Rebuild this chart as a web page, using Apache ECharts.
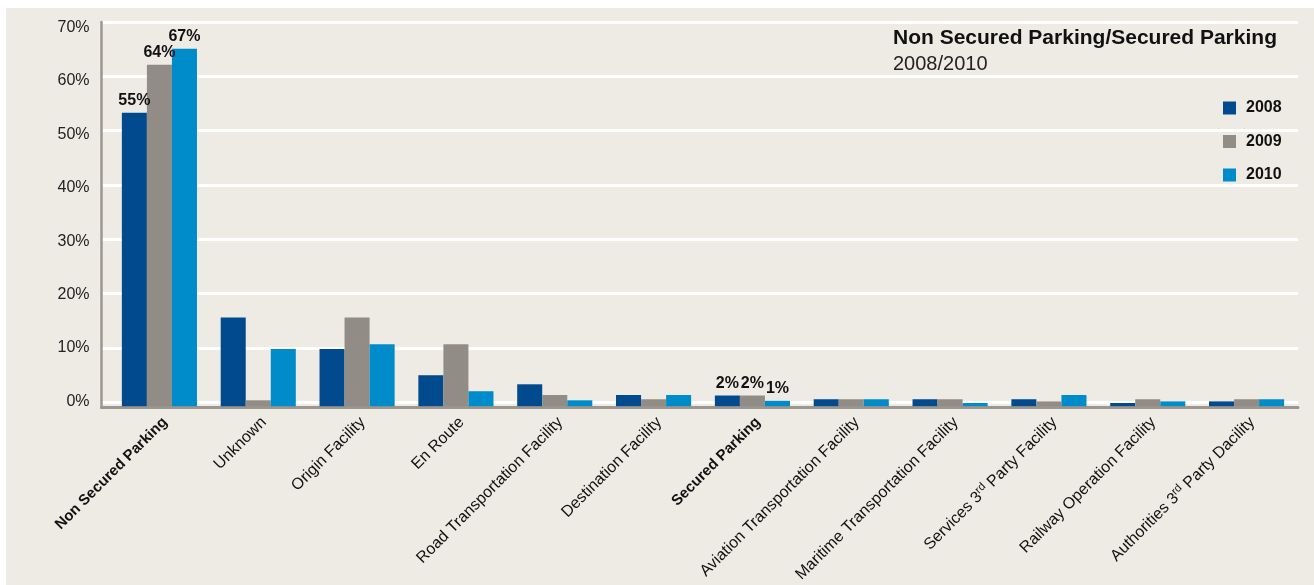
<!DOCTYPE html>
<html>
<head>
<meta charset="utf-8">
<script src="https://cdn.jsdelivr.net/npm/echarts@6/dist/echarts.min.js"></script>
<style>
html,body{margin:0;padding:0;background:#fff;}
#chart{width:1314px;height:585px;}
</style>
</head>
<body>
<div id="chart"></div>
<script>
// ---- data ----
var categories = ['Non Secured Parking', 'Unknown', 'Origin Facility', 'En Route',
  'Road Transportation Facility', 'Destination Facility', 'Secured Parking',
  'Aviation Transportation Facility', 'Maritime Transportation Facility',
  'Services 3rd Party Facility', 'Railway Operation Facility', 'Authorities 3rd Party Dacility'];
var seriesNames = ['2008', '2009', '2010'];
var values2008 = [55, 16.6, 10.7, 5.8, 4.1, 2.1, 2, 1.3, 1.3, 1.3, 0.6, 0.9];
var values2009 = [64, 1.1, 16.6, 11.6, 2.1, 1.3, 2, 1.3, 1.3, 0.9, 1.3, 1.3];
var values2010 = [67, 10.7, 11.6, 2.8, 1.1, 2.1, 1, 1.3, 0.6, 2.1, 0.9, 1.3];
var labelledCategories = ['Non Secured Parking', 'Secured Parking'];
var yTickMin = 0, yTickMax = 70, yTickStep = 10;
var titleText = 'Non Secured Parking/Secured Parking';
var subtitleText = '2008/2010';

var colors = ['#004a8d', '#918d86', '#008bca'];
var FONT = '"Liberation Sans", Arial, Helvetica, sans-serif';
var AXIS_TOP = 72; // value axis extends slightly above the last tick

function buildData(vals) {
  return vals.map(function (v, i) {
    var show = labelledCategories.indexOf(categories[i]) >= 0;
    return { value: v, label: { show: show } };
  });
}

var allVals = [values2008, values2009, values2010];
var series = seriesNames.map(function (name, k) {
  return {
    name: name,
    type: 'bar',
    xAxisIndex: 0,
    yAxisIndex: 0,
    data: buildData(allVals[k]),
    barGap: '0%',
    barCategoryGap: '24%',
    itemStyle: { color: colors[k] },
    label: {
      show: false,
      position: 'top',
      distance: 4,
      formatter: function (p) { return Math.round(p.value) + '%'; },
      fontFamily: FONT,
      fontWeight: 'bold',
      fontSize: 16,
      color: '#111'
    }
  };
});

var chart = echarts.init(document.getElementById('chart'), null, { renderer: 'canvas' });
chart.setOption({
  backgroundColor: '#ffffff',
  animation: false,
  textStyle: { fontFamily: FONT },
  graphic: [{
    type: 'rect', z: -100, silent: true,
    shape: { x: 6, y: 8, width: 1308, height: 577 },
    style: { fill: '#eeebe5' }
  }],
  title: {
    text: titleText,
    subtext: subtitleText,
    left: 893,
    top: 28,
    padding: 0,
    itemGap: 5,
    textStyle: { fontFamily: FONT, fontWeight: 'bold', fontSize: 21, color: '#111' },
    subtextStyle: { fontFamily: FONT, fontWeight: 'normal', fontSize: 20, color: '#222' }
  },
  legend: {
    data: seriesNames,
    orient: 'vertical',
    left: 1223,
    top: 100,
    padding: 0,
    itemWidth: 13,
    itemHeight: 13,
    itemGap: 17.5,
    icon: 'rect',
    textStyle: { fontFamily: FONT, fontWeight: 'bold', fontSize: 16, color: '#111', padding: [0, 0, 0, 5] }
  },
  grid: [
    { left: 110, right: 18, top: 22, bottom: 177.5, containLabel: false },   // bars
    { left: 101.5, right: 16, top: 22, bottom: 177.5, containLabel: false }  // frame
  ],
  xAxis: [{
    type: 'category',
    gridIndex: 0,
    data: categories,
    axisTick: { show: false },
    axisLine: { show: false },
    axisLabel: {
      interval: 0,
      rotate: 45,
      margin: 8,
      padding: [16, 0, 0, 0],
      fontFamily: FONT,
      fontSize: 16,
      color: '#111',
      formatter: function (v) {
        var s = v.replace('3rd', '3{sup|rd}');
        if (labelledCategories.indexOf(v) >= 0) return '{b|' + s + '}';
        return s;
      },
      rich: {
        b: { fontFamily: FONT, fontWeight: 'bold', fontSize: 15, color: '#111' },
        sup: { fontFamily: FONT, fontSize: 11, color: '#111', padding: [0, 0, 8, 0] }
      }
    }
  }, {
    type: 'value',
    gridIndex: 1,
    min: 0, max: 1,
    axisTick: { show: false },
    axisLabel: { show: false },
    splitLine: { show: false },
    axisLine: { show: true, onZero: false, lineStyle: { color: '#9b968f', width: 3 } }
  }],
  yAxis: [{
    // value scale of the bars; carries the tick labels
    type: 'value',
    gridIndex: 0,
    min: yTickMin,
    max: AXIS_TOP,
    interval: yTickStep,
    offset: 8.5,
    axisLine: { show: false },
    axisTick: { show: false },
    splitLine: { show: false },
    axisLabel: {
      margin: 12,
      verticalAlign: 'bottom',
      lineHeight: 10,
      fontFamily: FONT,
      fontSize: 16,
      color: '#222',
      formatter: function (v) { return v <= yTickMax ? v + '%' : ''; }
    }
  }, {
    // frame: axis line and white grid lines
    type: 'value',
    gridIndex: 1,
    min: -1,
    max: yTickMax,
    splitNumber: 7,
    axisTick: { show: false },
    axisLabel: { show: false },
    axisLine: { show: true, lineStyle: { color: '#9b968f', width: 2.5 } },
    splitLine: { show: true, lineStyle: { color: '#ffffff', width: 3 } }
  }],
  series: series
});
</script>
</body>
</html>
